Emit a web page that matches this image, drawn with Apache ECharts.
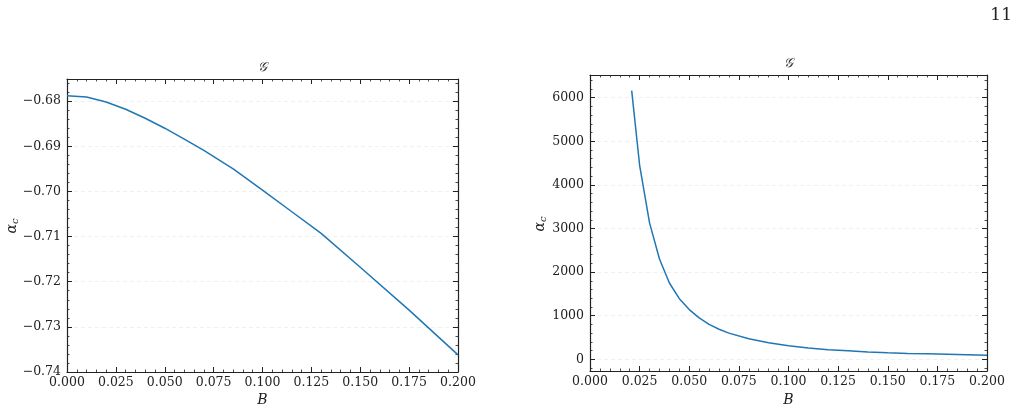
<!DOCTYPE html>
<html><head><meta charset="utf-8">
<script src="https://cdn.jsdelivr.net/npm/echarts@6/dist/echarts.min.js"></script>
<style>html,body{margin:0;padding:0;background:#fff}#c{width:1017px;height:413px}</style>
</head><body><div id="c"></div>
<script>
// Left panel data
const leftB = [0, 0.01, 0.02, 0.03, 0.04, 0.05, 0.06, 0.07, 0.085, 0.1, 0.115, 0.13, 0.15, 0.175, 0.2];
const leftAlpha = [-0.6788, -0.6791, -0.6802, -0.6818, -0.6838, -0.6860, -0.6884, -0.6909, -0.6950, -0.6997, -0.7045, -0.7093, -0.7168, -0.7263, -0.7362];
// Right panel data
const rightB = [0.021, 0.025, 0.03, 0.035, 0.04, 0.045, 0.05, 0.055, 0.06, 0.065, 0.07, 0.08, 0.09, 0.1, 0.11, 0.12, 0.13, 0.14, 0.15, 0.16, 0.17, 0.18, 0.19, 0.2];
const rightAlpha = [6160, 4450, 3130, 2300, 1750, 1390, 1140, 950, 800, 690, 600, 470, 380, 310, 260, 220, 195, 170, 150, 135, 125, 115, 105, 95];
const xTickLabels = ['0.000','0.025','0.050','0.075','0.100','0.125','0.150','0.175','0.200'];
const pageNumber = '11';
const panelTitle = '𝒢';
const xName = 'B';

const FONT = 'DejaVu Serif';
const INK = '#222';
const chart = echarts.init(document.getElementById('c'));

function xAx(grid, pos, labels) {
  return {
    type: 'value', gridIndex: grid, position: pos, min: 0, max: 0.2, interval: 0.025,
    axisLine: {show: true, onZero: false, lineStyle: {color: INK, width: 1.2}},
    axisTick: {show: true, inside: true, length: 5, lineStyle: {color: INK, width: 1}},
    minorTick: {show: true, splitNumber: 5, length: 2.5, lineStyle: {color: INK, width: 0.8}},
    splitLine: {show: false},
    axisLabel: labels ? {show: true, fontFamily: FONT, fontSize: 12.5, color: INK, margin: 4,
      formatter: v => xTickLabels[Math.round(v / 0.025)] || ''} : {show: false}
  };
}
function yAx(grid, pos, min, max, split, major, labels, fmt, grid2) {
  return {
    type: 'value', gridIndex: grid, position: pos, min: min, max: max, splitNumber: split,
    axisLine: {show: major, onZero: false, lineStyle: {color: INK, width: 1.2}},
    axisTick: {show: true, inside: true, length: major ? 5 : 2.5, lineStyle: {color: INK, width: major ? 1 : 0.8}},
    splitLine: {show: !!grid2, lineStyle: {color: '#ececec', type: [4, 3], width: 0.8}},
    axisLabel: labels ? {show: true, fontFamily: FONT, fontSize: 12.5, color: INK, margin: 6,
      showMinLabel: labels.minL, showMaxLabel: false, formatter: fmt} : {show: false}
  };
}
const fmtLeft = v => (v < 0 ? '\u2212' : '') + Math.abs(v).toFixed(2);
const fmtRight = v => String(Math.round(v));

const L = {min: -0.74, max: -0.6751};
const R = {min: -268, max: 6520};

function sub(text) {
  return {
    text: '{a|α}{s|c}',
    rich: {
      a: {fontFamily: FONT, fontStyle: 'italic', fontSize: 14, fill: INK, lineHeight: 18},
      s: {fontFamily: FONT, fontStyle: 'italic', fontSize: 10, fill: INK, lineHeight: 18, padding: [6, 0, 0, 0]}
    }
  };
}

chart.setOption({
  animation: false,
  grid: [
    {left: 67, top: 79, width: 391, height: 293},
    {left: 590, top: 75, width: 397, height: 296}
  ],
  xAxis: [xAx(0, 'bottom', true), xAx(0, 'top', false), xAx(1, 'bottom', true), xAx(1, 'top', false)],
  yAxis: [
    yAx(0, 'left', L.min, L.max, 6, true, {minL: true}, fmtLeft, true),
    yAx(0, 'left', L.min, L.max, 32, false, null),
    yAx(0, 'right', L.min, L.max, 6, true, null),
    yAx(0, 'right', L.min, L.max, 32, false, null),
    yAx(1, 'left', R.min, R.max, 7, true, {minL: false}, fmtRight, true),
    yAx(1, 'left', R.min, R.max, 34, false, null),
    yAx(1, 'right', R.min, R.max, 7, true, null),
    yAx(1, 'right', R.min, R.max, 34, false, null)
  ],
  series: [
    {type: 'line', xAxisIndex: 0, yAxisIndex: 0, showSymbol: false, silent: true,
     lineStyle: {color: '#1f77b4', width: 1.5}, data: leftB.map((b, i) => [b, leftAlpha[i]])},
    {type: 'line', xAxisIndex: 2, yAxisIndex: 4, showSymbol: false, silent: true,
     lineStyle: {color: '#1f77b4', width: 1.5}, data: rightB.map((b, i) => [b, rightAlpha[i]])}
  ],
  graphic: [
    {type: 'text', x: 1012, y: 16, style: {text: pageNumber, font: '17px "DejaVu Serif"', fill: INK, textAlign: 'right', textVerticalAlign: 'middle'}},
    {type: 'text', x: 262.5, y: 68, style: {text: panelTitle, font: 'italic 13px "DejaVu Serif"', fill: INK, textAlign: 'center', textVerticalAlign: 'middle'}},
    {type: 'text', x: 788.5, y: 64, style: {text: panelTitle, font: 'italic 13px "DejaVu Serif"', fill: INK, textAlign: 'center', textVerticalAlign: 'middle'}},
    {type: 'text', x: 262.5, y: 400, style: {text: xName, font: 'italic 14px "DejaVu Serif"', fill: INK, textAlign: 'center', textVerticalAlign: 'middle'}},
    {type: 'text', x: 788.5, y: 400, style: {text: xName, font: 'italic 14px "DejaVu Serif"', fill: INK, textAlign: 'center', textVerticalAlign: 'middle'}},
    {type: 'text', x: 12, y: 226, rotation: Math.PI / 2, style: Object.assign(sub(), {textAlign: 'center', textVerticalAlign: 'middle'})},
    {type: 'text', x: 540, y: 224, rotation: Math.PI / 2, style: Object.assign(sub(), {textAlign: 'center', textVerticalAlign: 'middle'})}
  ]
});
</script></body></html>
